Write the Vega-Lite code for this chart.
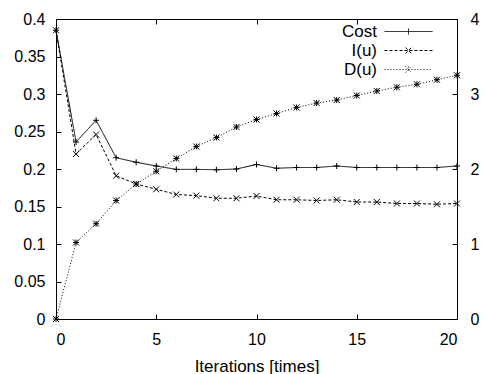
{
  "$schema": "https://vega.github.io/schema/vega-lite/v6.json",
  "width": 401,
  "height": 300,
  "autosize": "none",
  "padding": {"left": 56, "top": 19, "right": 28, "bottom": 55},
  "background": "white",
  "config": {
    "view": {"stroke": "black", "strokeWidth": 1},
    "axis": {
      "grid": false,
      "domainColor": "black",
      "domainWidth": 1,
      "tickColor": "black",
      "tickWidth": 1,
      "tickSize": -5,
      "labelColor": "black",
      "labelFont": "Liberation Sans",
      "labelFontSize": 16,
      "titleFont": "Liberation Sans",
      "titleFontSize": 17,
      "titleFontWeight": "normal",
      "titleColor": "black"
    }
  },
  "data": {
    "values": [
      {"iter": 0, "series": "Cost", "value": 0.385},
      {"iter": 1, "series": "Cost", "value": 0.236},
      {"iter": 2, "series": "Cost", "value": 0.265},
      {"iter": 3, "series": "Cost", "value": 0.215},
      {"iter": 4, "series": "Cost", "value": 0.209},
      {"iter": 5, "series": "Cost", "value": 0.204},
      {"iter": 6, "series": "Cost", "value": 0.1995},
      {"iter": 7, "series": "Cost", "value": 0.1995},
      {"iter": 8, "series": "Cost", "value": 0.199},
      {"iter": 9, "series": "Cost", "value": 0.2},
      {"iter": 10, "series": "Cost", "value": 0.206},
      {"iter": 11, "series": "Cost", "value": 0.201},
      {"iter": 12, "series": "Cost", "value": 0.202},
      {"iter": 13, "series": "Cost", "value": 0.202},
      {"iter": 14, "series": "Cost", "value": 0.204},
      {"iter": 15, "series": "Cost", "value": 0.202},
      {"iter": 16, "series": "Cost", "value": 0.202},
      {"iter": 17, "series": "Cost", "value": 0.202},
      {"iter": 18, "series": "Cost", "value": 0.202},
      {"iter": 19, "series": "Cost", "value": 0.202},
      {"iter": 20, "series": "Cost", "value": 0.204},
      {"iter": 0, "series": "I(u)", "value": 0.385},
      {"iter": 1, "series": "I(u)", "value": 0.22},
      {"iter": 2, "series": "I(u)", "value": 0.246},
      {"iter": 3, "series": "I(u)", "value": 0.191},
      {"iter": 4, "series": "I(u)", "value": 0.18},
      {"iter": 5, "series": "I(u)", "value": 0.173},
      {"iter": 6, "series": "I(u)", "value": 0.166},
      {"iter": 7, "series": "I(u)", "value": 0.1645},
      {"iter": 8, "series": "I(u)", "value": 0.161},
      {"iter": 9, "series": "I(u)", "value": 0.161},
      {"iter": 10, "series": "I(u)", "value": 0.164},
      {"iter": 11, "series": "I(u)", "value": 0.159},
      {"iter": 12, "series": "I(u)", "value": 0.159},
      {"iter": 13, "series": "I(u)", "value": 0.158},
      {"iter": 14, "series": "I(u)", "value": 0.159},
      {"iter": 15, "series": "I(u)", "value": 0.156},
      {"iter": 16, "series": "I(u)", "value": 0.156},
      {"iter": 17, "series": "I(u)", "value": 0.154},
      {"iter": 18, "series": "I(u)", "value": 0.154},
      {"iter": 19, "series": "I(u)", "value": 0.153},
      {"iter": 20, "series": "I(u)", "value": 0.154},
      {"iter": 0, "series": "D(u)", "value": 0},
      {"iter": 1, "series": "D(u)", "value": 1.02},
      {"iter": 2, "series": "D(u)", "value": 1.27},
      {"iter": 3, "series": "D(u)", "value": 1.58},
      {"iter": 4, "series": "D(u)", "value": 1.8},
      {"iter": 5, "series": "D(u)", "value": 1.97},
      {"iter": 6, "series": "D(u)", "value": 2.14},
      {"iter": 7, "series": "D(u)", "value": 2.3},
      {"iter": 8, "series": "D(u)", "value": 2.42},
      {"iter": 9, "series": "D(u)", "value": 2.56},
      {"iter": 10, "series": "D(u)", "value": 2.66},
      {"iter": 11, "series": "D(u)", "value": 2.74},
      {"iter": 12, "series": "D(u)", "value": 2.82},
      {"iter": 13, "series": "D(u)", "value": 2.88},
      {"iter": 14, "series": "D(u)", "value": 2.92},
      {"iter": 15, "series": "D(u)", "value": 2.98},
      {"iter": 16, "series": "D(u)", "value": 3.04},
      {"iter": 17, "series": "D(u)", "value": 3.09},
      {"iter": 18, "series": "D(u)", "value": 3.13},
      {"iter": 19, "series": "D(u)", "value": 3.19},
      {"iter": 20, "series": "D(u)", "value": 3.25}
    ]
  },
  "layer": [
    {
      "transform": [{"filter": "datum.series !== 'D(u)'"}],
      "encoding": {
        "x": {
          "field": "iter", "type": "quantitative",
          "scale": {"domain": [0, 20], "nice": false, "zero": false},
          "axis": {"values": [0, 5, 10, 15, 20], "title": "Iterations [times]", "labelPadding": 17, "titlePadding": 11}
        },
        "y": {
          "field": "value", "type": "quantitative",
          "scale": {"domain": [0, 0.4], "nice": false},
          "axis": {"values": [0, 0.05, 0.1, 0.15, 0.2, 0.25, 0.3, 0.35, 0.4], "format": "~g", "title": null, "labelPadding": 16}
        }
      },
      "layer": [
        {
          "mark": {"type": "line", "color": "black", "strokeWidth": 1},
          "encoding": {
            "strokeDash": {
              "field": "series", "type": "nominal",
              "scale": {"domain": ["Cost", "I(u)", "D(u)"], "range": [[1, 0], [3, 2], [1, 2]]},
              "legend": null
            }
          }
        },
        {
          "mark": {"type": "point", "filled": false, "color": "black", "size": 36, "strokeWidth": 1, "opacity": 1},
          "encoding": {
            "shape": {
              "field": "series", "type": "nominal",
              "scale": {"domain": ["Cost", "I(u)", "D(u)"], "range": ["M0,-1V1M-1,0H1", "M-1,-1L1,1M-1,1L1,-1", "M-1,-1L1,1M-1,1L1,-1M0,-1V1M-1,0H1"]},
              "legend": null
            }
          }
        }
      ]
    },
    {
      "transform": [{"filter": "datum.series === 'D(u)'"}],
      "encoding": {
        "x": {
          "field": "iter", "type": "quantitative",
          "axis": {"orient": "top", "values": [0, 5, 10, 15, 20], "labels": false, "title": null}
        },
        "y": {
          "field": "value", "type": "quantitative",
          "scale": {"domain": [0, 4], "nice": false},
          "axis": {"orient": "right", "values": [0, 1, 2, 3, 4], "format": "~g", "title": null, "labelPadding": 18}
        }
      },
      "layer": [
        {
          "mark": {"type": "line", "color": "black", "strokeWidth": 1},
          "encoding": {
            "strokeDash": {
              "field": "series", "type": "nominal",
              "scale": {"domain": ["Cost", "I(u)", "D(u)"], "range": [[1, 0], [3, 2], [1, 2]]},
              "legend": null
            }
          }
        },
        {
          "mark": {"type": "point", "filled": false, "color": "black", "size": 36, "strokeWidth": 1, "opacity": 1},
          "encoding": {
            "shape": {
              "field": "series", "type": "nominal",
              "scale": {"domain": ["Cost", "I(u)", "D(u)"], "range": ["M0,-1V1M-1,0H1", "M-1,-1L1,1M-1,1L1,-1", "M-1,-1L1,1M-1,1L1,-1M0,-1V1M-1,0H1"]},
              "legend": null
            }
          }
        }
      ]
    },
    {
      "transform": [{"filter": "datum.iter < 0"}],
      "mark": {"type": "point", "filled": false, "color": "black", "size": 36, "strokeWidth": 1, "opacity": 1},
      "encoding": {
        "x": {"field": "iter", "type": "quantitative", "axis": null},
        "y": {"field": "value", "type": "quantitative", "axis": null},
        "shape": {
          "field": "series", "type": "nominal",
          "scale": {"domain": ["Cost", "I(u)", "D(u)"], "range": ["M-8,0H8M0,-1V1", "M-8,0H8M-1,-1L1,1M-1,1L1,-1", "M-8,0H8M-1,-1L1,1M-1,1L1,-1M0,-1V1"]},
          "legend": {
            "orient": "none", "legendX": 344, "legendY": 4, "title": null,
            "labelAlign": "right", "labelOffset": -40,
            "labelFont": "Liberation Sans", "labelFontSize": 17, "labelColor": "black",
            "symbolStrokeColor": "black", "symbolStrokeWidth": 1, "symbolSize": 36, "symbolOpacity": 1,
            "rowPadding": 1, "padding": 0
          }
        },
        "strokeDash": {
          "field": "series", "type": "nominal",
          "scale": {"domain": ["Cost", "I(u)", "D(u)"], "range": [[1, 0], [3, 2], [1, 2]]},
          "legend": {
            "orient": "none", "legendX": 344, "legendY": 4, "title": null,
            "labelAlign": "right", "labelOffset": -40,
            "labelFont": "Liberation Sans", "labelFontSize": 17, "labelColor": "black",
            "symbolStrokeColor": "black", "symbolStrokeWidth": 1, "symbolSize": 36, "symbolOpacity": 1,
            "rowPadding": 1, "padding": 0
          }
        }
      }
    }
  ],
  "resolve": {"scale": {"y": "independent", "shape": "independent", "strokeDash": "independent"}, "axis": {"x": "independent"}}
}
